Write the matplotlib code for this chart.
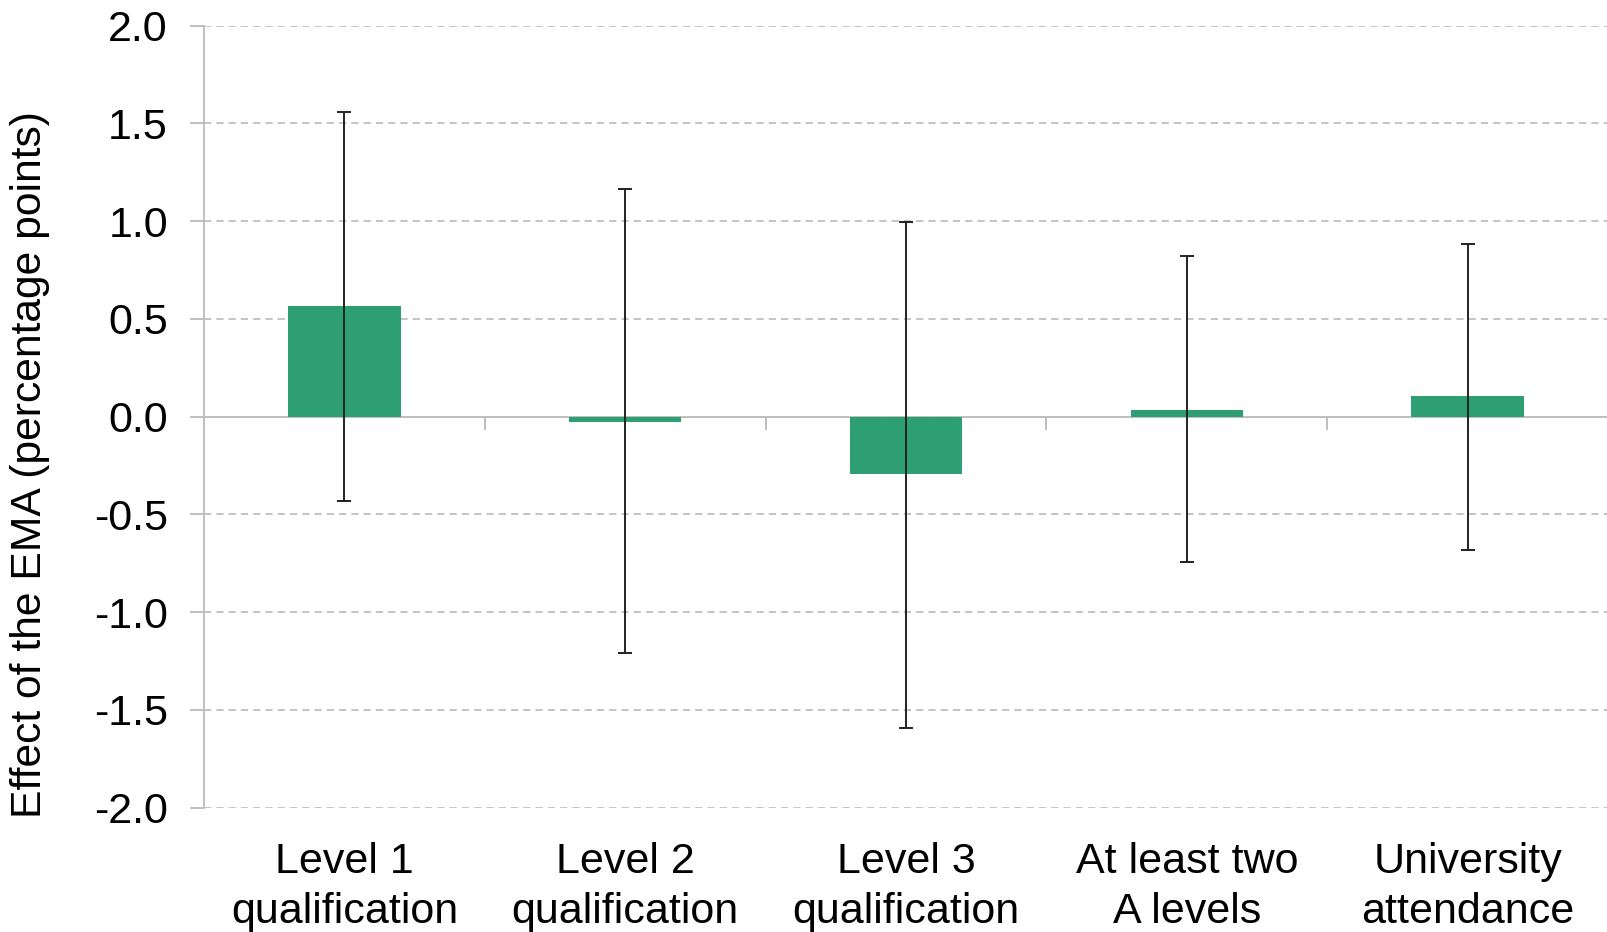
import matplotlib
matplotlib.use('Agg')
import matplotlib.pyplot as plt
import numpy as np

# values
categories = ['Level 1\nqualification', 'Level 2\nqualification', 'Level 3\nqualification',
              'At least two\nA levels', 'University\nattendance']
effect = [0.565, -0.025, -0.295, 0.035, 0.105]
ci_upper = [1.56, 1.165, 0.995, 0.82, 0.885]
ci_lower = [-0.43, -1.21, -1.595, -0.745, -0.68]

plt.rcParams['font.family'] = ['Liberation Sans', 'DejaVu Sans']
grey = '#BFBFBF'

fig = plt.figure(figsize=(16.08, 9.32), dpi=100)
ax = fig.add_axes([0.1269, 0.1334, 0.8731, 0.839])

x = np.arange(len(categories))
eff = np.array(effect)
yerr = [eff - np.array(ci_lower), np.array(ci_upper) - eff]

ax.bar(x, eff, width=0.4, color='#2E9E73', zorder=3)
ax.errorbar(x, eff, yerr=yerr, fmt='none', ecolor='#222222', elinewidth=1.4,
            capsize=5, capthick=1.4, zorder=4)

ax.set_xlim(-0.5, len(categories) - 0.5)
ax.set_ylim(-2.0, 2.0)
ax.set_yticks(np.arange(-2.0, 2.01, 0.5))
ax.set_yticklabels([f'{v:.1f}' for v in np.arange(-2.0, 2.01, 0.5)])
ax.yaxis.grid(True, color=grey, linestyle=(0, (4, 2.8)), linewidth=1.3, zorder=0)

for s in ['top', 'right']:
    ax.spines[s].set_visible(False)
ax.spines['left'].set_color(grey)
ax.spines['left'].set_linewidth(1.4)
ax.spines['bottom'].set_position(('data', 0))
ax.spines['bottom'].set_color(grey)
ax.spines['bottom'].set_linewidth(1.4)

ax.tick_params(axis='y', length=10, width=1.4, color=grey, labelsize=31, pad=16,
               labelcolor='black')
# x axis: category boundary ticks on the zero line, labels below the plot
ax.set_xticks(x)
ax.set_xticklabels([])
ax.tick_params(axis='x', which='major', length=0)
ax.set_xticks(np.arange(0.5, len(categories) - 0.5, 1), minor=True)
ax.tick_params(axis='x', which='minor', direction='out', length=9, width=1.4, color=grey)

for xi, lab in zip(x, categories):
    ax.text(xi, -0.044, lab, transform=ax.get_xaxis_transform(), ha='center', va='top',
            fontsize=31, linespacing=1.33)

ax.set_ylabel('Effect of the EMA (percentage points)', fontsize=30.7)
ax.yaxis.set_label_coords(-0.11, 0.439)

fig.savefig('out.png', dpi=100)
